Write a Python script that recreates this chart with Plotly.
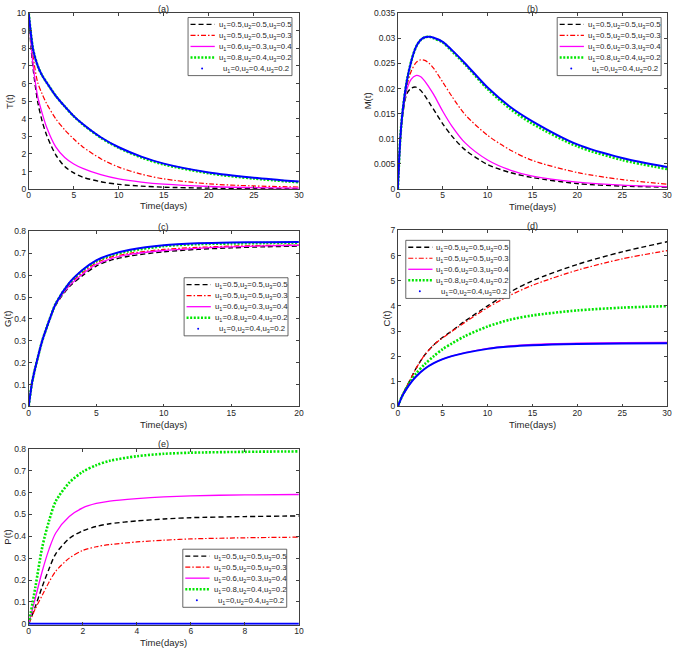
import plotly.graph_objects as go

W, H = 677, 651

# ---------------- data ----------------
labels = [
    "u<sub>1</sub>=0.5,u<sub>2</sub>=0.5,u<sub>3</sub>=0.5",
    "u<sub>1</sub>=0.5,u<sub>2</sub>=0.5,u<sub>3</sub>=0.3",
    "u<sub>1</sub>=0.6,u<sub>2</sub>=0.3,u<sub>3</sub>=0.4",
    "u<sub>1</sub>=0.8,u<sub>2</sub>=0.4,u<sub>3</sub>=0.2",
    "u<sub>1</sub>=0,u<sub>2</sub>=0.4,u<sub>3</sub>=0.2",
]

t_a = [0, 0.25, 0.5, 1, 1.5, 2, 3, 4, 5, 6, 8, 10, 12.5, 15, 20, 25, 30]
T_black = [10, 8.1, 6.8, 4.95, 3.85, 3.05, 1.95, 1.28, 0.92, 0.68, 0.42, 0.27, 0.17, 0.11, 0.055, 0.03, 0.02]
T_red = [10, 8.6, 7.5, 6.05, 5.4, 4.85, 4.0, 3.37, 2.85, 2.4, 1.73, 1.25, 0.85, 0.58, 0.3, 0.18, 0.12]
T_mag = [10, 8.3, 7.0, 5.25, 4.3, 3.5, 2.4, 1.8, 1.43, 1.18, 0.82, 0.58, 0.4, 0.28, 0.15, 0.09, 0.06]
T_green = [10, 8.8, 7.9, 7.0, 6.45, 6.05, 5.3, 4.7, 4.14, 3.68, 2.92, 2.34, 1.8, 1.4, 0.9, 0.6, 0.39]
T_blue = [10, 8.8, 7.9, 7.0, 6.45, 6.05, 5.3, 4.7, 4.15, 3.7, 2.95, 2.38, 1.85, 1.45, 0.95, 0.65, 0.43]

t_b = [0, 0.25, 0.5, 1, 1.5, 2, 2.5, 3, 3.5, 4, 5, 6, 7.5, 10, 12.5, 15, 20, 25, 30]
M_black = [0, 0.009, 0.0143, 0.0190, 0.0201, 0.0203, 0.0197, 0.0186, 0.0172, 0.0158, 0.0130, 0.0106, 0.0078, 0.0049, 0.0033, 0.0023, 0.0011, 0.0006, 0.0004]
M_red = [0, 0.0095, 0.0148, 0.0205, 0.0235, 0.0251, 0.0257, 0.0256, 0.0250, 0.0240, 0.0213, 0.0185, 0.0148, 0.0107, 0.0078, 0.0057, 0.0033, 0.0019, 0.0010]
M_mag = [0, 0.0093, 0.0145, 0.0198, 0.0219, 0.0226, 0.0224, 0.0215, 0.0202, 0.0188, 0.0155, 0.0126, 0.0092, 0.0058, 0.0038, 0.0026, 0.0014, 0.0008, 0.0005]
M_green = [0, 0.0095, 0.0150, 0.0215, 0.0255, 0.0282, 0.0296, 0.0302, 0.0303, 0.0300, 0.0292, 0.0275, 0.0248, 0.0199, 0.0160, 0.0130, 0.0085, 0.0058, 0.0040]
M_blue = [0, 0.0095, 0.0150, 0.0215, 0.0255, 0.0282, 0.0296, 0.0302, 0.0303, 0.0301, 0.0293, 0.0277, 0.0250, 0.0202, 0.0164, 0.0135, 0.0089, 0.0062, 0.0044]

t_c = [0, 0.25, 0.5, 1, 1.5, 2, 3, 4, 5, 6, 7.5, 10, 12.5, 15, 17.5, 20]
G_black = [0, 0.11, 0.18, 0.30, 0.389, 0.463, 0.547, 0.599, 0.642, 0.667, 0.688, 0.707, 0.718, 0.725, 0.730, 0.733]
G_red = [0, 0.11, 0.18, 0.30, 0.39, 0.468, 0.557, 0.612, 0.656, 0.681, 0.700, 0.718, 0.727, 0.733, 0.736, 0.738]
G_mag = [0, 0.11, 0.18, 0.30, 0.39, 0.466, 0.552, 0.606, 0.649, 0.674, 0.695, 0.713, 0.723, 0.730, 0.734, 0.737]
G_green = [0, 0.11, 0.18, 0.30, 0.39, 0.47, 0.563, 0.622, 0.664, 0.689, 0.711, 0.733, 0.742, 0.745, 0.747, 0.748]
G_blue = [0, 0.11, 0.18, 0.30, 0.39, 0.47, 0.565, 0.625, 0.668, 0.693, 0.716, 0.737, 0.746, 0.750, 0.751, 0.752]

t_d = [0, 0.5, 1, 1.5, 2, 3, 4, 5, 6, 7.5, 10, 12.5, 15, 20, 25, 30]
C_black = [0, 0.45, 0.8, 1.15, 1.5, 2.05, 2.45, 2.75, 3.0, 3.4, 4.0, 4.55, 5.0, 5.65, 6.15, 6.55]
C_red = [0, 0.45, 0.8, 1.15, 1.5, 2.05, 2.45, 2.73, 2.98, 3.35, 3.93, 4.42, 4.82, 5.42, 5.87, 6.2]
C_mag = [0, 0.42, 0.72, 0.97, 1.18, 1.5, 1.72, 1.88, 2.0, 2.14, 2.31, 2.41, 2.47, 2.52, 2.54, 2.55]
C_green = [0, 0.43, 0.76, 1.05, 1.3, 1.68, 2.0, 2.28, 2.5, 2.8, 3.18, 3.45, 3.62, 3.82, 3.93, 3.99]
C_blue = [0, 0.42, 0.72, 0.97, 1.18, 1.5, 1.72, 1.88, 2.0, 2.13, 2.29, 2.38, 2.43, 2.48, 2.5, 2.51]

t_e = [0, 0.25, 0.5, 0.75, 1, 1.5, 2, 2.5, 3, 4, 5, 6, 8, 10]
P_black = [0, 0.08, 0.17, 0.25, 0.32, 0.39, 0.425, 0.445, 0.457, 0.47, 0.479, 0.485, 0.49, 0.493]
P_red = [0, 0.07, 0.13, 0.19, 0.24, 0.3, 0.335, 0.352, 0.362, 0.374, 0.382, 0.388, 0.393, 0.396]
P_mag = [0, 0.12, 0.24, 0.34, 0.415, 0.49, 0.53, 0.55, 0.561, 0.572, 0.58, 0.585, 0.589, 0.591]
P_green = [0, 0.17, 0.35, 0.47, 0.56, 0.645, 0.695, 0.725, 0.745, 0.766, 0.777, 0.782, 0.786, 0.788]
P_blue = [0, 0, 0, 0, 0, 0, 0, 0, 0, 0, 0, 0, 0, 0]

panels = [
    dict(t=t_a, ys=[T_black, T_red, T_mag, T_green, T_blue], title="(a)", ylab="T(t)",
         xr=[0, 30], xd=5, yr=[0, 10], yd=1, yfmt=None),
    dict(t=t_b, ys=[M_black, M_red, M_mag, M_green, M_blue], title="(b)", ylab="M(t)",
         xr=[0, 30], xd=5, yr=[0, 0.035], yd=0.005, yfmt="b"),
    dict(t=t_c, ys=[G_black, G_red, G_mag, G_green, G_blue], title="(c)", ylab="G(t)",
         xr=[0, 20], xd=5, yr=[0, 0.8], yd=0.1, yfmt=None),
    dict(t=t_d, ys=[C_black, C_red, C_mag, C_green, C_blue], title="(d)", ylab="C(t)",
         xr=[0, 30], xd=5, yr=[0, 7], yd=1, yfmt=None),
    dict(t=t_e, ys=[P_black, P_red, P_mag, P_green, P_blue], title="(e)", ylab="P(t)",
         xr=[0, 10], xd=2, yr=[-0.004, 0.8], yd=0.1, yfmt=None),
]

# ---------------- layout geometry (pixels) ----------------
boxes = [
    (27, 300, 8.3, 187),
    (400, 672, 8.3, 187),
    (27, 300, 230, 407.7),
    (400, 672, 229, 407.7),
    (27, 300, 450.7, 629.3),
]
xlab_y = [204, 204.5, 426, 426, 647]
ylab_x = [7, 369, 6, 388, 6]
legend_pos = [(188, 12.7), (561, 12.7), (184, 277), (408, 239), (182.7, 552.7)]

styles = [
    dict(color="black", dash="5px,3px", width=1.4),
    dict(color="red", dash="5px,2px,1.5px,2px", width=1.2),
    dict(color="#ff00ff", dash="solid", width=1.3),
    dict(color="#00e600", dash="2px,1.6px", width=2.6),
    dict(color="#0000ff", dash="solid", width=2.0),
]

FONT = "Liberation Sans, Arial, sans-serif"
AX_COL = "#404040"
TXT_COL = "#262626"


def px(x):
    return x / W


def py(y):
    return 1 - y / H


fig = go.Figure()
layout = dict(
    width=W, height=H, margin=dict(l=0, r=0, t=0, b=0),
    paper_bgcolor="white", plot_bgcolor="white", showlegend=False,
    font=dict(family=FONT, size=9, color=TXT_COL),
)
annotations = []
shapes = []

for i, p in enumerate(panels):
    n = i + 1
    xa = "x" if n == 1 else f"x{n}"
    ya = "y" if n == 1 else f"y{n}"
    for ys, st in zip(p["ys"], styles):
        fig.add_trace(go.Scatter(
            x=p["t"], y=ys, mode="lines", xaxis=xa, yaxis=ya,
            line=dict(color=st["color"], dash=st["dash"], width=st["width"],
                      shape="spline", smoothing=0.8),
            hoverinfo="skip",
        ))
    l, r, t, b = boxes[i]
    axcommon = dict(showline=True, linecolor=AX_COL, linewidth=0.8, mirror="ticks",
                    ticks="inside", ticklen=3, tickwidth=0.8, tickcolor=AX_COL,
                    showgrid=False, zeroline=False,
                    tickfont=dict(family=FONT, size=8.5, color=TXT_COL))
    layout["xaxis" if n == 1 else f"xaxis{n}"] = dict(
        domain=[px(l), px(r)], anchor=ya, range=p["xr"], dtick=p["xd"], tick0=0,
        ticklabelstandoff=-2, **axcommon)
    yax = dict(domain=[py(b), py(t)], anchor=xa, range=p["yr"], dtick=p["yd"], tick0=0, **axcommon)
    if p["yfmt"] == "b":
        yax["tickvals"] = [k * 0.005 for k in range(8)]
        yax["ticktext"] = ["0", "0.005", "0.01", "0.015", "0.02", "0.025", "0.03", "0.035"]
    layout["yaxis" if n == 1 else f"yaxis{n}"] = yax

    annotations.append(dict(text=p["title"], x=px((l + r) / 2), y=py(t - 4.5), xref="paper", yref="paper",
                            showarrow=False, xanchor="center", yanchor="middle",
                            font=dict(size=9, color=TXT_COL)))
    annotations.append(dict(text="Time(days)", x=px((l + r) / 2), y=py(xlab_y[i]), xref="paper", yref="paper",
                            showarrow=False, xanchor="center", yanchor="middle",
                            font=dict(size=9.5, color=TXT_COL)))
    annotations.append(dict(text=p["ylab"], x=px(ylab_x[i]), y=py((t + b) / 2), xref="paper", yref="paper",
                            showarrow=False, xanchor="center", yanchor="middle", textangle=-90,
                            font=dict(size=9.5, color=TXT_COL)))

    # compact legend box
    lx, ly = legend_pos[i]
    lw, lh = 105, 59
    shapes.append(dict(type="rect", xref="paper", yref="paper",
                       x0=px(lx), x1=px(lx + lw), y0=py(ly + lh), y1=py(ly),
                       line=dict(color=AX_COL, width=0.8), fillcolor="white", layer="above"))
    for k, (lab, st) in enumerate(zip(labels, styles)):
        yy = ly + 7 + 11.2 * k
        if k < 4:
            shapes.append(dict(type="line", xref="paper", yref="paper",
                               x0=px(lx + 2.5), x1=px(lx + 27), y0=py(yy), y1=py(yy),
                               line=dict(color=st["color"], dash=st["dash"], width=st["width"]),
                               layer="above"))
        else:
            shapes.append(dict(type="circle", xref="paper", yref="paper",
                               x0=px(lx + 13.2), x1=px(lx + 15.2), y0=py(yy + 1), y1=py(yy - 1),
                               line=dict(color=st["color"], width=0), fillcolor=st["color"],
                               layer="above"))
        annotations.append(dict(text=lab, x=px(lx + (29 if k < 4 else 33.5)), y=py(yy + 0.5),
                                xref="paper", yref="paper", showarrow=False,
                                xanchor="left", yanchor="middle",
                                font=dict(size=7.8, color=TXT_COL)))

layout["annotations"] = annotations
layout["shapes"] = shapes
fig.update_layout(**layout)
fig.write_html("out.html")
